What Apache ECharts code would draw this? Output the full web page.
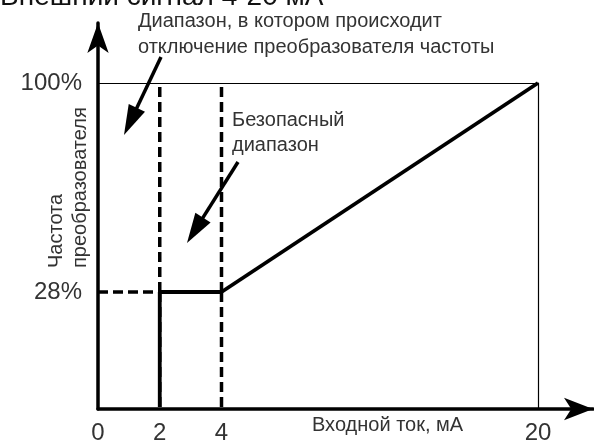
<!DOCTYPE html>
<html><head><meta charset="utf-8">
<script src="https://cdn.jsdelivr.net/npm/echarts@6/dist/echarts.min.js"></script>
<style>html,body{margin:0;padding:0;background:#fff}#c{width:594px;height:445px}</style>
</head><body><div id="c"></div>
<script>
// ---- data (input current, mA / inverter frequency, %) ----
const xTickValues = [0, 2, 4, 20];
const yTickValues = [28, 100];
const xSegments = [[0, 4], [4, 20]];       // broken (schematic) x scale pieces
const ySegments = [[0, 28], [28, 100]];    // broken (schematic) y scale pieces
const outputCurrent = [2, 2, 4, 20];
const outputFreq = [0, 28, 28, 100];
const guideVerticalX = [2, 4];
const guideVerticalY = [0, 28, 100];
const guideHorizontalX = [0, 2];
const guideHorizontalY = [28, 28];

const FONT = 'Liberation Sans';
const TXT = '#333';
const PX = {left: 98, xBreak: 221.5, right: 538, bottom: 409, yBreak: 292, top: 83};

const grids = [], xAxes = [], yAxes = [];
function gi(xi, yi) { return yi * 2 + xi; }
for (let yi = 0; yi < 2; yi++) for (let xi = 0; xi < 2; xi++) {
  const l = xi === 0 ? PX.left : PX.xBreak, r = xi === 0 ? PX.xBreak : PX.right;
  const t = yi === 0 ? PX.yBreak : PX.top, b = yi === 0 ? PX.bottom : PX.yBreak;
  const idx = grids.length;
  grids.push({left: l, top: t, width: r - l, height: b - t});
  const xs = xSegments[xi], ys = ySegments[yi];
  xAxes.push({
    type: 'value', gridIndex: idx, min: xs[0], max: xs[1], interval: xs[1] - xs[0] > 4 ? 16 : 2,
    axisLine: {show: false}, axisTick: {show: false}, splitLine: {show: false},
    axisLabel: {
      show: yi === 0, margin: 14, showMinLabel: true, showMaxLabel: true,
      fontFamily: FONT, fontSize: 24, color: TXT,
      formatter: v => (xTickValues.includes(v) && (xi === 0 ? v <= xs[1] : v > xs[0])) ? String(v) : ''
    }
  });
  yAxes.push({
    type: 'value', gridIndex: idx, min: ys[0], max: ys[1], interval: ys[1] - ys[0],
    axisLine: {show: false}, axisTick: {show: false}, splitLine: {show: false},
    axisLabel: {
      show: xi === 0, margin: 16, showMinLabel: true, showMaxLabel: true,
      fontFamily: FONT, fontSize: 24, color: TXT,
      formatter: v => (yTickValues.includes(v) && (yi === 0 ? v <= ys[1] : v > ys[0])) ? v + '%' : ''
    }
  });
}
// frame grid (thin top / right border)
grids.push({left: PX.left, top: PX.top, width: PX.right - PX.left, height: PX.bottom - PX.top});
xAxes.push({type: 'value', gridIndex: 4, position: 'top', min: 0, max: 20,
  axisLine: {show: true, onZero: false, lineStyle: {color: '#000', width: 1.2}}, axisTick: {show: false}, axisLabel: {show: false}, splitLine: {show: false}});
yAxes.push({type: 'value', gridIndex: 4, position: 'right', min: 0, max: 100,
  axisLine: {show: true, onZero: false, lineStyle: {color: '#000', width: 1.2}}, axisTick: {show: false}, axisLabel: {show: false}, splitLine: {show: false}});
// main arrowed axes
grids.push({left: PX.left, top: 23, width: 495, height: PX.bottom - 23});
xAxes.push({type: 'value', gridIndex: 5, min: 0, max: 1,
  axisLine: {show: true, onZero: false, symbol: ['none', 'arrow'], symbolSize: [17, 29], lineStyle: {color: '#000', width: 3.5}},
  axisTick: {show: false}, axisLabel: {show: false}, splitLine: {show: false}});
yAxes.push({type: 'value', gridIndex: 5, min: 0, max: 1,
  axisLine: {show: true, onZero: false, symbol: ['none', 'arrow'], symbolSize: [16, 30], lineStyle: {color: '#000', width: 3.5}},
  axisTick: {show: false}, axisLabel: {show: false}, splitLine: {show: false}});

function segSeries(xs, ys, lineStyle, z) {
  const out = [];
  for (let i = 0; i < xs.length - 1; i++) {
    const mx = (xs[i] + xs[i + 1]) / 2, my = (ys[i] + ys[i + 1]) / 2;
    const xi = mx <= xSegments[0][1] ? 0 : 1, yi = my <= ySegments[0][1] ? 0 : 1;
    const idx = gi(xi, yi);
    out.push({type: 'line', xAxisIndex: idx, yAxisIndex: idx, symbol: 'none', clip: false,
      silent: true, animation: false, z: z, lineStyle: lineStyle,
      data: [[xs[i], ys[i]], [xs[i + 1], ys[i + 1]]]});
  }
  return out;
}
const dashed = {color: '#000', width: 3.5, type: [10, 5]};
const solid = {color: '#000', width: 3.8, cap: 'butt', join: 'miter'};
let series = [];
guideVerticalX.forEach(x => { series = series.concat(segSeries(guideVerticalY.map(() => x), guideVerticalY, dashed, 2)); });
series = series.concat(segSeries(guideHorizontalX, guideHorizontalY, dashed, 2));
series = series.concat(segSeries(outputCurrent, outputFreq, solid, 3));

function arrow(x1, y1, x2, y2) {
  const dx = x2 - x1, dy = y2 - y1, L = Math.hypot(dx, dy), ux = dx / L, uy = dy / L;
  const hl = 30, hw = 9;
  const bx = x2 - ux * hl, by = y2 - uy * hl;
  return [
    {type: 'polyline', shape: {points: [[x1, y1], [bx + ux * 3, by + uy * 3]]}, style: {stroke: '#000', lineWidth: 3.5}},
    {type: 'polygon', shape: {points: [[x2, y2], [bx - uy * hw, by + ux * hw], [bx + uy * hw, by - ux * hw]]}, style: {fill: '#000'}}
  ];
}
function txt(x, y, text, extra) {
  return {type: 'text', x: x, y: y, style: Object.assign({text: text, fontFamily: FONT, fontSize: 20, fill: TXT, align: 'left', verticalAlign: 'middle'}, extra || {})};
}
const graphic = [
  txt(0, -3, 'Внешний сигнал 4-20 мА', {fontSize: 28, fill: '#111'}),
  txt(138, 21, 'Диапазон, в котором происходит'),
  txt(138, 47, 'отключение преобразователя частоты'),
  txt(232, 120, 'Безопасный'),
  txt(232, 145, 'диапазон'),
  txt(312, 425, 'Входной ток, мА'),
  Object.assign(txt(56, 268, 'Частота'), {rotation: Math.PI / 2}),
  Object.assign(txt(80, 268, 'преобразователя'), {rotation: Math.PI / 2})
].concat(arrow(161, 57, 124, 135), arrow(238, 162, 187, 243));

const chart = echarts.init(document.getElementById('c'), null, {renderer: 'canvas'});
chart.setOption({
  backgroundColor: '#fff', animation: false,
  grid: grids, xAxis: xAxes, yAxis: yAxes, series: series, graphic: graphic
});
</script></body></html>
